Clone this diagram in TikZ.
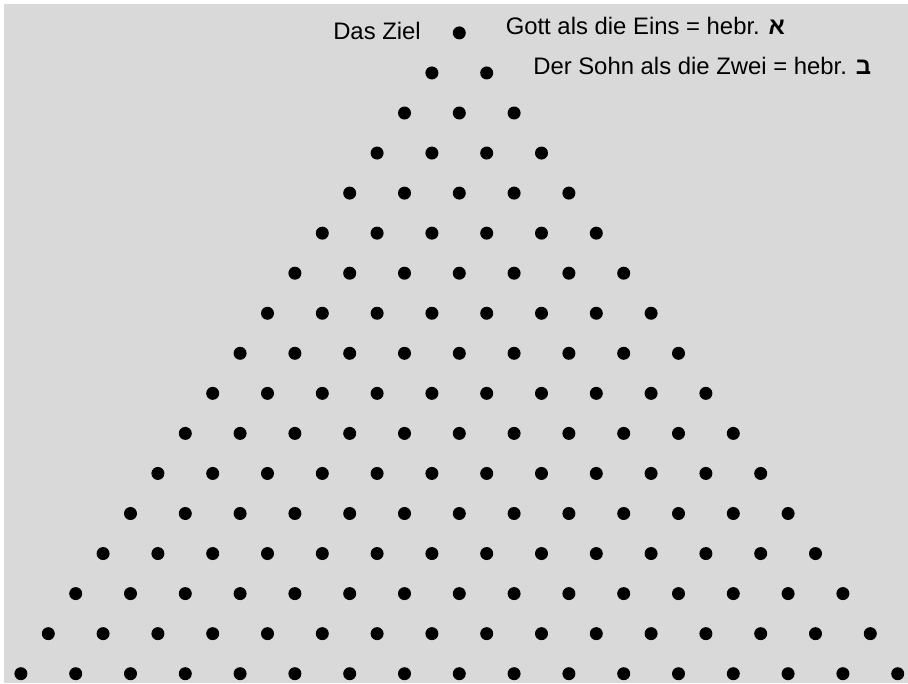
\documentclass[tikz,border=0pt]{standalone}
\usepackage{fontspec}
\setmainfont{Liberation Sans}
\newfontfamily\hebrfont[Script=Hebrew]{Liberation Sans}
\TeXXeTstate=1
\usetikzlibrary{positioning}
\definecolor{bggray}{RGB}{217,217,217}

\begin{document}
\begin{tikzpicture}[x=0.75pt,y=-0.75pt]
\useasboundingbox (0,0) rectangle (908,683);
\fill [bggray] (4,4) rectangle (908,683);
\begin{scope}[every node/.style={font=\fontsize{17.9}{21}\selectfont, inner sep=0pt, anchor=base west},
  dot/.style={circle, fill=black, minimum size=9.75pt, inner sep=0pt, anchor=center}]
\foreach \r in {0,...,16} {
  \foreach \c in {0,...,\r} {
    \pgfmathsetmacro{\x}{459.3+(\c-\r/2)*54.8}
    \pgfmathsetmacro{\y}{32.9+\r*40.05}
    \node [dot] (d-\r-\c) at (\x,\y) {};
  }
}
\node (ziel) at (333,39.3)  {Das Ziel};
\node (eins) at (505.5,34)  {Gott als die Eins = hebr. {\hebrfont\bfseries\beginR א\endR}};
\node (zwei) at (533,74)    {Der Sohn als die Zwei = hebr. {\hebrfont\bfseries\beginR ב\endR}};
\end{scope}
\end{tikzpicture}
\end{document}
